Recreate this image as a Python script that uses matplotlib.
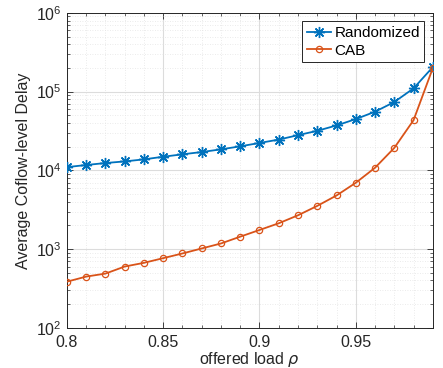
import numpy as np
import matplotlib
matplotlib.use("Agg")
import matplotlib.pyplot as plt
from matplotlib.ticker import LogLocator, NullFormatter, MultipleLocator

plt.rcParams['font.family'] = ['Liberation Sans', 'DejaVu Sans']
plt.rcParams['mathtext.fontset'] = 'dejavusans'

load = [0.80, 0.81, 0.82, 0.83, 0.84, 0.85, 0.86, 0.87, 0.88, 0.89,
        0.90, 0.91, 0.92, 0.93, 0.94, 0.95, 0.96, 0.97, 0.98, 0.99]
randomized = [11000, 11700, 12400, 13000, 13800, 14900, 16000, 17100, 18500, 20200,
              22300, 24600, 28000, 31800, 37200, 44800, 55600, 73800, 110000, 205000]
cab = [386, 448, 489, 601, 670, 768, 881, 1020, 1180, 1440,
       1750, 2130, 2690, 3540, 4800, 6960, 10800, 19300, 43400, 199000]
xticks = [0.8, 0.85, 0.9, 0.95]
xtick_labels = ['0.8', '0.85', '0.9', '0.95']

fig = plt.figure(figsize=(4.43, 3.68), dpi=100)
ax = fig.add_axes([0.151, 0.109, 0.826, 0.856])

blue = '#0072BD'
orange = '#D95319'
ax.plot(load, randomized, '-', color=blue, marker=(8, 2, 0), markersize=8, lw=1.3,
        markeredgewidth=1.0, label='Randomized', zorder=3)
ax.plot(load, cab, '-', color=orange, marker='o', markersize=4.5, lw=1.3,
        markerfacecolor='none', markeredgewidth=0.9, label='CAB', zorder=3)

ax.set_yscale('log')
ax.set_xlim(0.8, 0.99)
ax.set_ylim(1e2, 1e6)
ax.set_xticks(xticks)
ax.set_xticklabels(xtick_labels)
ax.xaxis.set_minor_locator(MultipleLocator(0.01))
ax.yaxis.set_major_locator(LogLocator(base=10, numticks=10))
ax.yaxis.set_minor_locator(LogLocator(base=10, subs=np.arange(2, 10), numticks=20))
ax.yaxis.set_minor_formatter(NullFormatter())

ax.grid(True, which='major', color='#dcdcdc', lw=0.8)
ax.grid(True, which='minor', color='#e4e4e4', lw=0.6, linestyle=(0, (1, 2)))
ax.set_axisbelow(True)

ax.tick_params(which='both', direction='in', top=True, right=True, labelsize=11.5, colors='#262626')
ax.tick_params(axis='x', which='major', pad=5)
ax.tick_params(which='major', length=4, width=0.6)
ax.tick_params(which='minor', length=2, width=0.5)
for s in ax.spines.values():
    s.set_color('#262626')
    s.set_linewidth(0.7)

ax.set_xlabel(r'offered load $\rho$', fontsize=11.5, color='#262626', labelpad=0)
ax.set_ylabel('Average Coflow-level Delay', fontsize=11.5, color='#262626', labelpad=4)

leg = ax.legend(loc='upper right', fontsize=11, frameon=True, fancybox=False,
                edgecolor='#262626', framealpha=1, borderpad=0.3, labelspacing=0.25,
                handlelength=1.6, handletextpad=0.2, borderaxespad=0.55)
leg.get_frame().set_linewidth(0.7)

fig.savefig('out.png', dpi=100)
